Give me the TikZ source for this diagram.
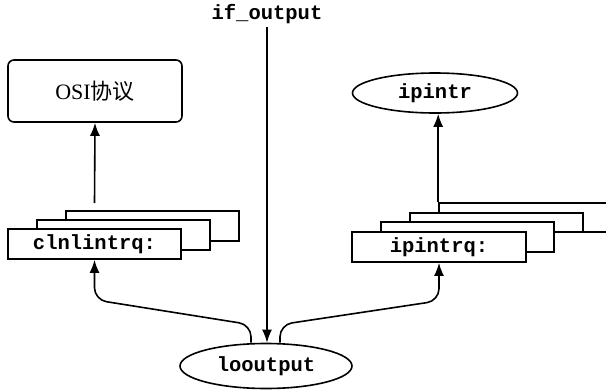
\documentclass[tikz,border=0pt]{standalone}
\usepackage{fontspec}
\setmainfont{Liberation Serif}
\setmonofont{Liberation Mono}
\newfontfamily\cjk{Noto Sans CJK SC}
\usetikzlibrary{arrows.meta,shapes.geometric}

\tikzset{
  code/.style={font=\ttfamily\bfseries\fontsize{20.5}{24}\selectfont},
  qbox/.style={draw,fill=white,line width=1.6pt,minimum width=173pt,
               minimum height=30pt,inner sep=0pt,code},
  func/.style={ellipse,draw,line width=1.6pt,inner sep=0pt,code},
  arr/.style={-{Latex[length=13pt,width=10pt]},line width=1.6pt},
}

\begin{document}
\begin{tikzpicture}[x=1pt,y=-1pt]
  \clip (0,0) rectangle (606,389);
  \node[code] (ifout) at (267,14) {if\_output};
  \node[draw,rounded corners=6pt,line width=1.6pt,minimum width=174pt,
        minimum height=62pt,font=\fontsize{22}{26}\selectfont]
        (osi) at (95,91) {OSI{\cjk 协议}};
  \node[func,minimum width=165pt,minimum height=40pt] (ipintr) at (435,93) {ipintr};
  \node[func,minimum width=172pt,minimum height=45pt] (lo) at (266,366) {looutput};
  % clnlintrq stack
  \node[qbox] (clnl3) at (152.5,226) {};
  \node[qbox] (clnl2) at (123.5,235) {};
  \node[qbox] (clnl) at (94.5,244) {clnlintrq:};
  % ipintrq stack
  \node[qbox,minimum width=201pt,minimum height=29pt] (ipq4) at (539.5,217.5) {};
  \node[qbox,minimum height=19pt] (ipq3) at (496.5,222.5) {};
  \node[qbox] (ipq2) at (467.5,237) {};
  \node[qbox,minimum width=174pt] (ipq) at (439,247) {ipintrq:};
  % connectors
  \draw[arr] (ifout) -- (ifout |- lo.north);
  \draw[arr] ([yshift=7pt]clnl3.north -| clnl.south) -- (osi.south);
  \draw[arr] (ipq4.north west) -- (ipq4.north west |- ipintr.south);
  \draw[arr,rounded corners=12pt] ([xshift=-15pt]lo.north) -- ++(0,-18)
    -- ([yshift=-40pt]clnl.south) -- (clnl.south);
  \draw[arr,rounded corners=12pt] ([xshift=14pt]lo.north) -- ++(0,-18)
    -- ([yshift=-38pt]ipq.south) -- (ipq.south);
\end{tikzpicture}
\end{document}
